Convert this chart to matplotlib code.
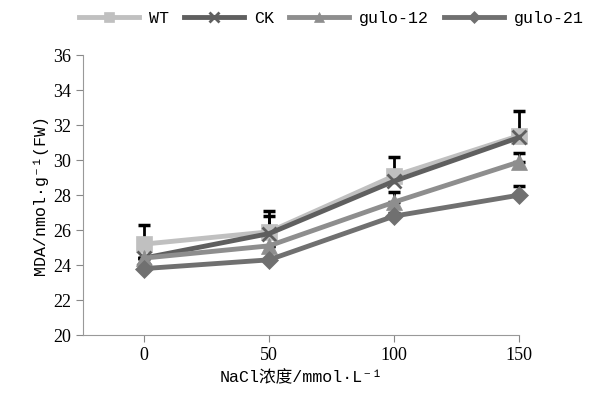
import numpy as np
import matplotlib.pyplot as plt

plt.rcParams['font.family'] = ['Liberation Serif', 'Noto Sans CJK SC', 'DejaVu Serif']
plt.rcParams['font.size'] = 11

# NaCl 浓度
nacl = [0, 50, 100, 150]

wt = [25.2, 25.9, 29.1, 31.4]
ck = [24.4, 25.8, 28.8, 31.3]
gulo12 = [24.4, 25.1, 27.6, 29.9]
gulo21 = [23.8, 24.3, 26.8, 28.0]

wt_err = [1.1, 1.2, 1.1, 1.4]
ck_err = [0.0, 1.0, 0.0, 0.0]
gulo12_err = [0.0, 0.0, 0.6, 0.5]
gulo21_err = [0.0, 0.0, 0.2, 0.5]

series = [
    ('WT', wt, wt_err, '#c0c0c0', 's', 11),
    ('CK', ck, ck_err, '#5f5f5f', 'x', 10),
    ('gulo-12', gulo12, gulo12_err, '#8e8e8e', '^', 11),
    ('gulo-21', gulo21, gulo21_err, '#707070', 'D', 9),
]

mono = ['Liberation Mono', 'Noto Sans CJK SC', 'DejaVu Sans Mono']

fig = plt.figure(figsize=(5.92, 3.97), dpi=100)
ax = fig.add_axes([0.140, 0.156, 0.737, 0.705])

for nombre, y, err, color, mk, ms in series:
    ax.errorbar(nacl, y, yerr=[np.zeros(len(err)), err], fmt='none',
                ecolor='black', elinewidth=2, capsize=4, capthick=2.5,
                clip_on=False, zorder=2)
    ax.plot(nacl, y, color=color, linewidth=3.5, marker=mk, markersize=ms,
            markeredgewidth=2 if mk == 'x' else 0.5, markeredgecolor=color,
            label=nombre, clip_on=False, zorder=3)

ax.set_xlim(-24.4, 150)
ax.set_ylim(20, 36)
ax.set_xticks(nacl)
ax.set_yticks(np.arange(20, 37, 2))
ax.tick_params(colors='#888888', labelcolor='black', labelsize=13, length=5)
for s in ['top', 'right']:
    ax.spines[s].set_visible(False)
for s in ['left', 'bottom']:
    ax.spines[s].set_color('#999999')

ax.set_xlabel('NaCl浓度/mmol·L⁻¹', fontsize=12, family=mono)
ax.set_ylabel('MDA/nmol·g⁻¹(FW)', fontsize=12, family=mono)

fig.legend(loc='center left', bbox_to_anchor=(0.133, 0.953), ncol=4, frameon=False,
           borderaxespad=0, borderpad=0,
           handlelength=3.6, columnspacing=0.9, handletextpad=0.6,
           markerscale=0.7, prop={'family': mono, 'size': 12})

fig.savefig('out.png', dpi=100)
